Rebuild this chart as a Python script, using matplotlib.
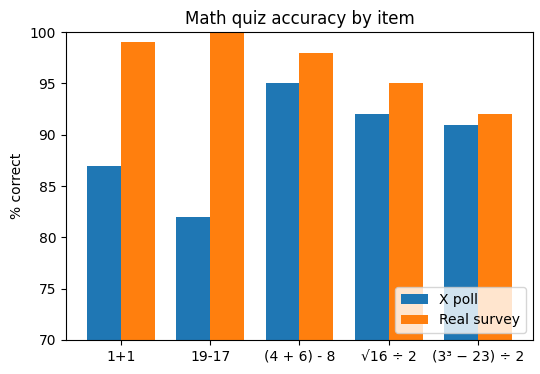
import matplotlib.pyplot as plt
import numpy as np

ITEMS = ["1+1", "19-17", "(4 + 6) - 8", "√16 ÷ 2", "(3³ − 23) ÷ 2"]
X_POLL = [87, 82, 95, 92, 91]
REAL_SURVEY = [99, 100, 98, 95, 92]


def main():
    fig, ax = plt.subplots(figsize=(5.4, 3.74), dpi=100)
    x = np.arange(len(ITEMS))
    w = 0.38
    ax.bar(x - w / 2, X_POLL, width=w, color="#1f77b4", label="X poll")
    ax.bar(x + w / 2, REAL_SURVEY, width=w, color="#ff7f0e", label="Real survey")
    ax.set_xticks(x, ITEMS)
    ax.set_ylim(70, 100)
    ax.set_ylabel("% correct")
    ax.set_title("Math quiz accuracy by item")
    ax.legend(loc="lower right")
    fig.subplots_adjust(left=0.122, right=0.987, top=0.914, bottom=0.091)
    fig.savefig("out.png", dpi=100)


if __name__ == "__main__":
    main()
